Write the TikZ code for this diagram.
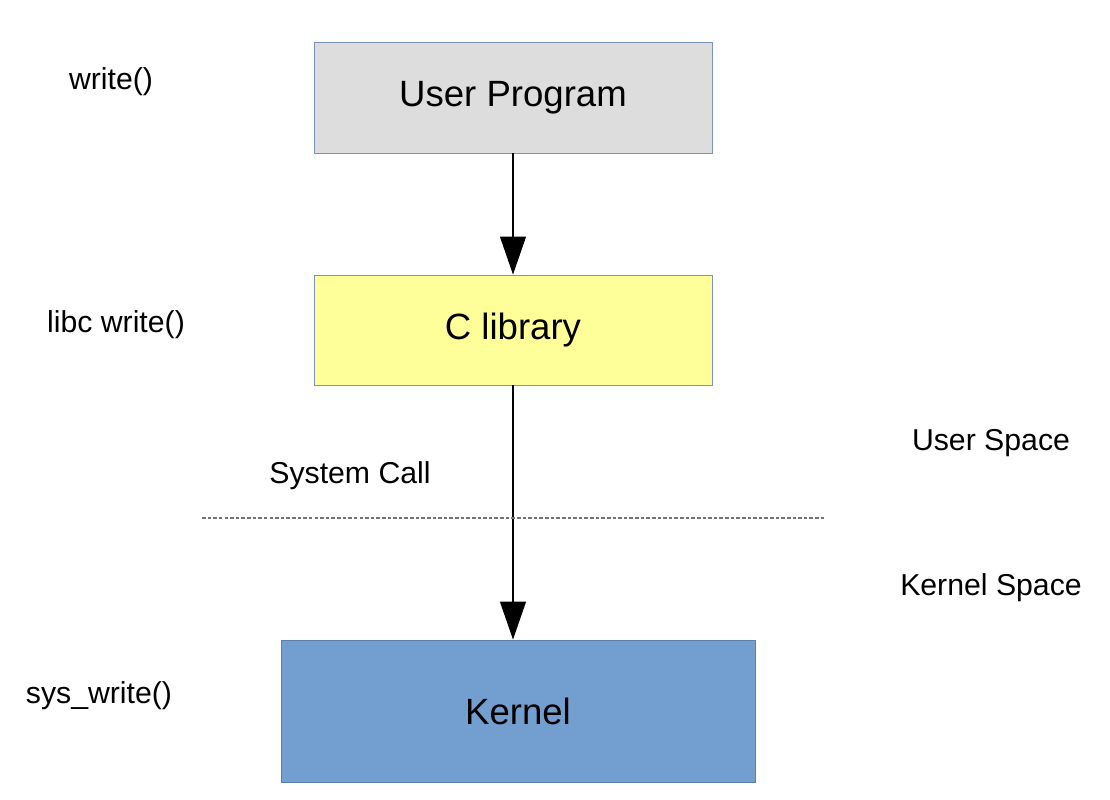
\documentclass[tikz,border=0pt]{standalone}
\usepackage{fontspec}
\setmainfont{Liberation Sans}
\usepackage{xcolor}
\usetikzlibrary{positioning,arrows.meta,calc}

\definecolor{boxgray}{HTML}{DDDDDD}
\definecolor{boxyellow}{HTML}{FFFF99}
\definecolor{boxblue}{HTML}{729FCF}
\definecolor{boxline}{HTML}{7C93BF}

\begin{document}
\begin{tikzpicture}[x=0.025cm,y=-0.025cm,
		layer/.style={draw=boxline,line width=0.6pt,inner sep=0pt,font=\fontsize{26}{30}\selectfont},
		side/.style={font=\fontsize{21.5}{25}\selectfont,inner sep=0pt},
		call/.style={-{Triangle[length=0.95cm,width=0.65cm]},line width=0.8pt}]
		\useasboundingbox (0,0) rectangle (1110,800);
		% the three layers
		\node[layer,fill=boxgray,minimum width=9.95cm,minimum height=2.775cm] (user) at (513,97.5) {User Program};
		\node[layer,fill=boxyellow,minimum width=9.95cm,minimum height=2.75cm] (libc) at (513,330) {C library};
		\node[layer,fill=boxblue,draw=boxblue!80!black,minimum width=11.85cm,minimum height=3.55cm] (kernel) at (518,711) {Kernel};
		\draw[call] (user.south) -- (libc.north);
		\draw[call] (libc.south) -- (libc.south |- kernel.north);
		% boundary between user and kernel space
		\coordinate (bl) at (202,518);
		\coordinate (br) at (824,518);
		\draw[gray!90!black,dash pattern=on 2.5pt off 1.5pt,line width=1pt] (bl) -- (br);
		% labels
		\node[side] (w) at (111,82) {write()};
		\node[side] (lw) at (116,325) {libc write()};
		\node[side] (sw) at (99,696) {sys\_write()};
		\node[side] (sc) at (350,476) {System Call};
		\node[side] (us) at (991,443) {User Space};
		\node[side] (ks) at (991,588) {Kernel Space};
\end{tikzpicture}
\end{document}
